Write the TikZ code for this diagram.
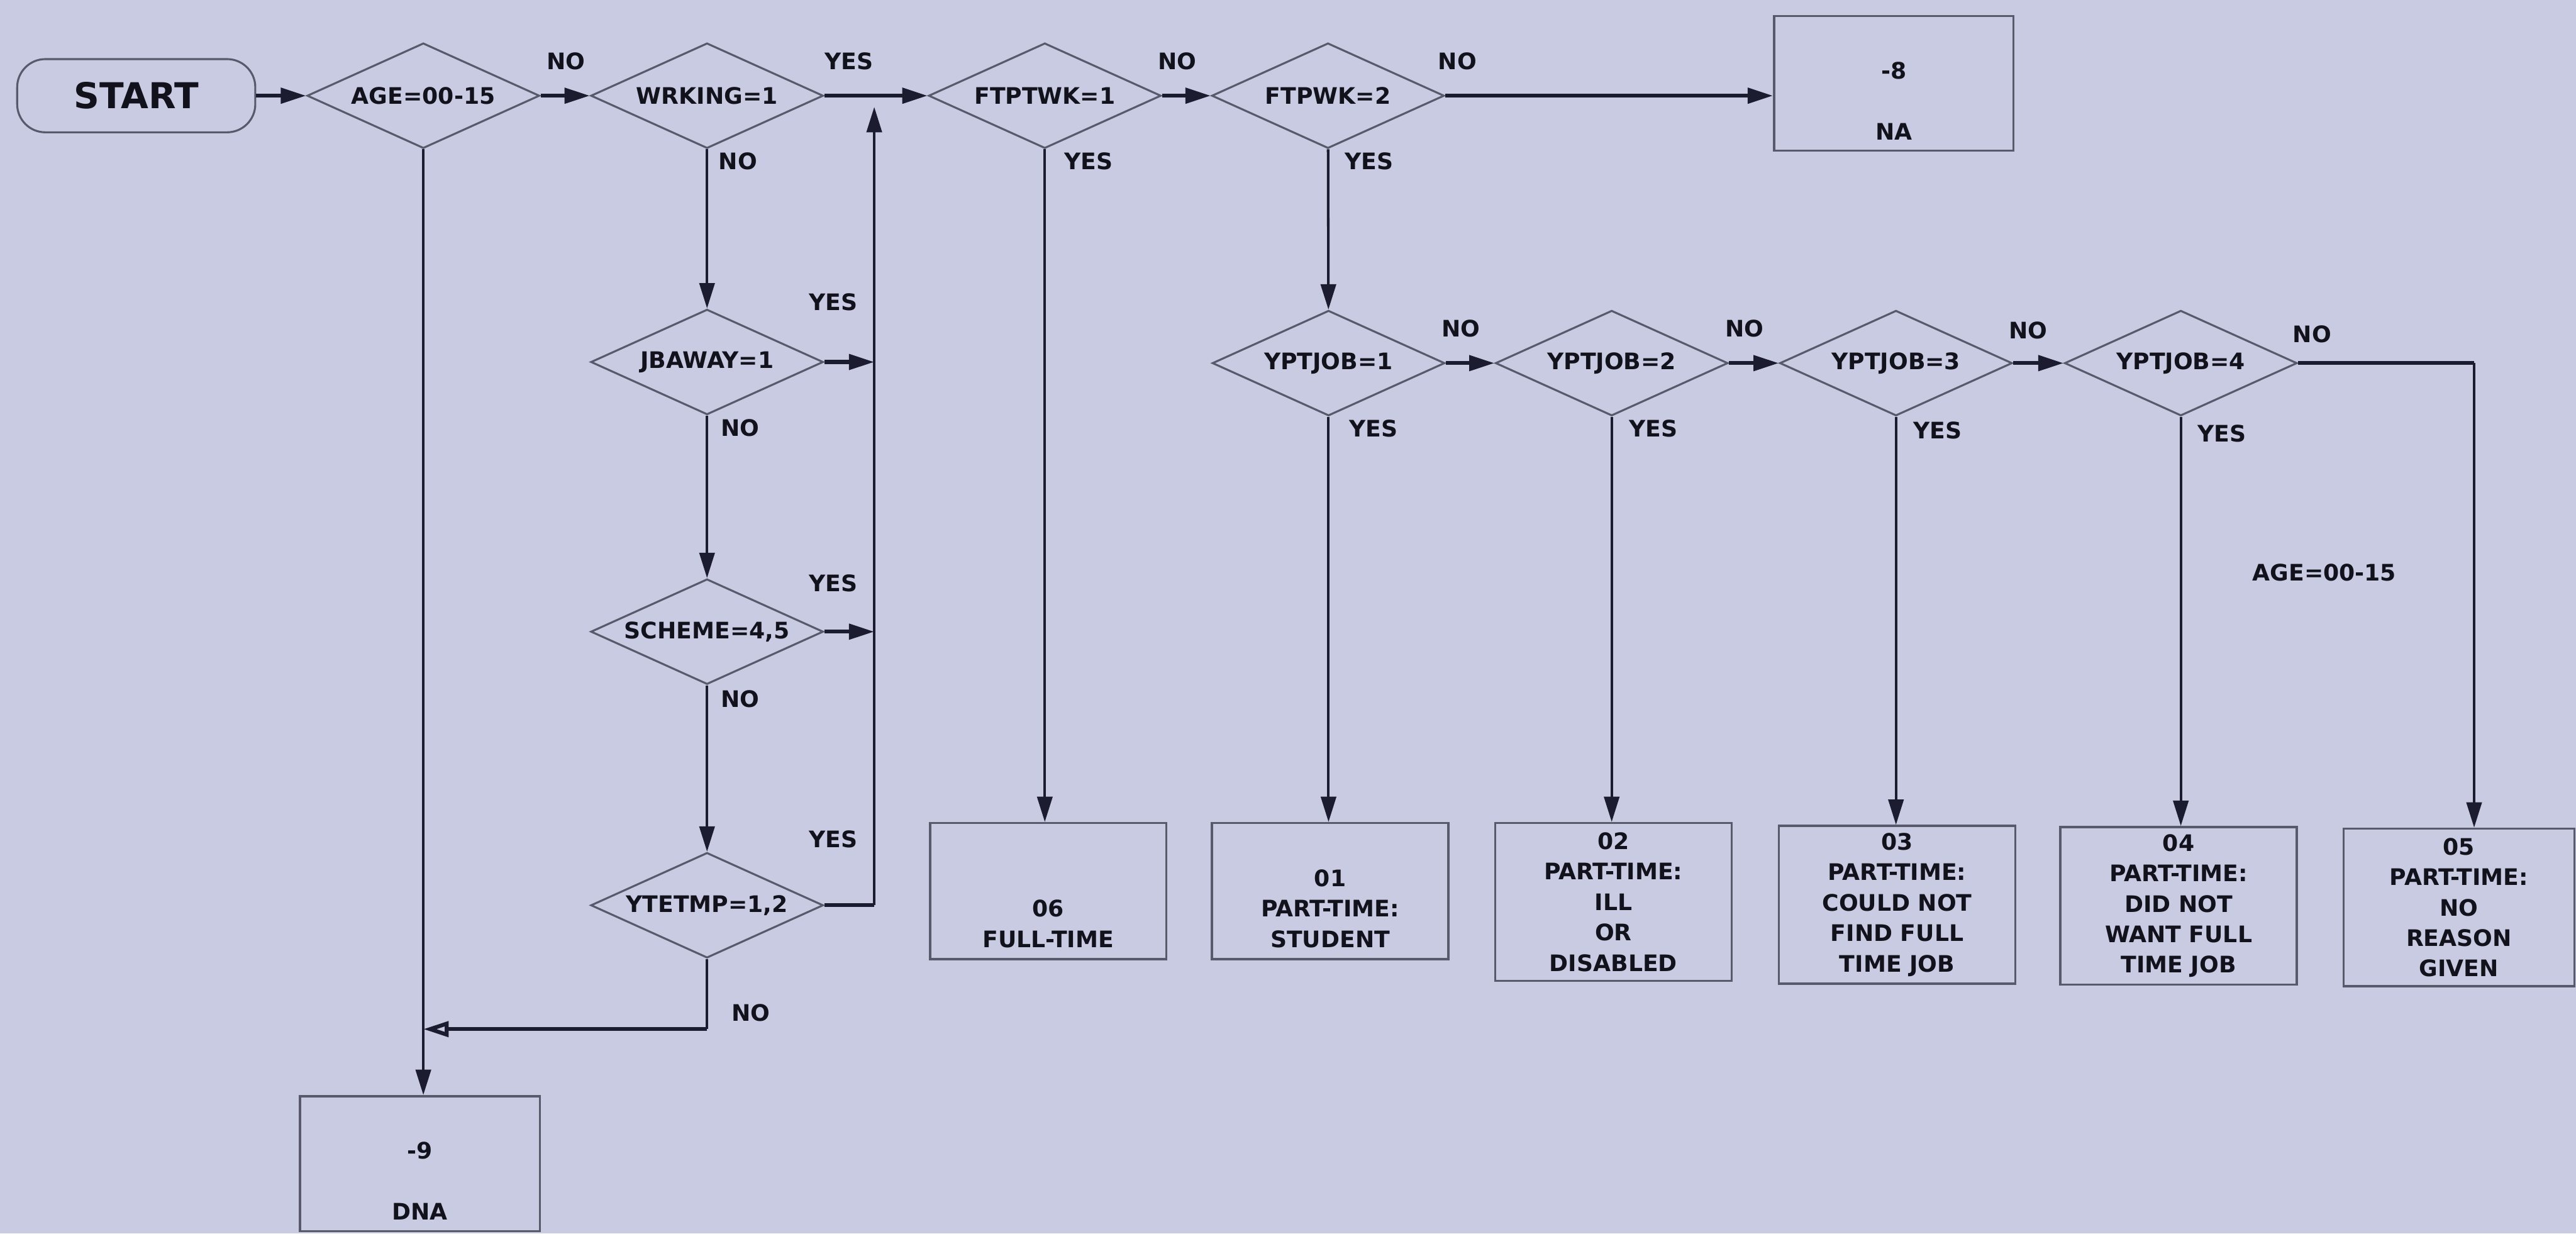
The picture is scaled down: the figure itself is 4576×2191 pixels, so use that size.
\documentclass[tikz,border=0pt]{standalone}
\usepackage{fontspec}
\setmainfont{DejaVu Sans}
\usetikzlibrary{
    arrows.meta,
    shapes.geometric
}

\definecolor{paper}{RGB}{200,203,225}
\definecolor{wire}{RGB}{28,28,48}
\definecolor{edge}{RGB}{88,90,108}
\definecolor{ink}{RGB}{18,18,28}

\newcommand{\lblfont}{\fontsize{11.5}{15.4}\selectfont\bfseries}
\newcommand{\startfont}{\fontsize{18}{22}\selectfont\bfseries}

\tikzset{
    decision/.style={diamond, draw=edge, line width=0.35mm, aspect=2.2,
        minimum width=41.3mm, minimum height=18.7mm, inner sep=0pt,
        font=\lblfont, text=ink},
    outbox/.style={rectangle, draw=edge, line width=0.4mm, minimum width=42mm,
        minimum height=24.2mm, inner sep=0.5mm, align=center,
        font=\lblfont, text=ink},
    tallbox/.style={outbox, minimum height=28mm},
    startbox/.style={rectangle, rounded corners=5mm, draw=edge, line width=0.35mm,
        minimum width=42.3mm, minimum height=13mm, font=\startfont, text=ink},
    lbl/.style={font=\lblfont, text=ink, inner sep=0pt},
    hline/.style={draw=wire, line width=0.7mm},
    vline/.style={draw=wire, line width=0.45mm},
    arr/.style={-{Triangle[length=4.5mm,width=2.7mm]}},
    openarr/.style={-{Triangle[open,length=4.5mm,width=2.7mm]}}
}

\begin{document}
\begin{tikzpicture}[x=0.1mm,y=-0.1mm]
\fill[paper] (0,0) rectangle (4576,2191);
\useasboundingbox (0,0) rectangle (4576,2191);

% top row
\node[startbox] (start) at (242,170) {START};
\node[decision] (age) at (752,170) {AGE=00-15};
\node[decision] (wrking) at (1256,170) {WRKING=1};
\node[decision] (ftptwk) at (1856,170) {FTPTWK=1};
\node[decision] (ftpwk) at (2359,170) {FTPWK=2};
\node[outbox, minimum width=42.5mm, minimum height=23.9mm] (na) at (3364,148) {\strut\\-8\\\strut\\NA};

% not working column
\node[decision] (jbaway) at (1256,643) {JBAWAY=1};
\node[decision] (scheme) at (1256,1122) {SCHEME=4,5};
\node[decision] (ytetmp) at (1256,1608) {YTETMP=1,2};
\node[outbox, minimum width=42.6mm, minimum height=24mm] (dna) at (746,2067) {\strut\\-9\\\strut\\DNA};

% part-time reasons
\node[decision] (ypt1) at (2360,645) {YPTJOB=1};
\node[decision] (ypt2) at (2863,645) {YPTJOB=2};
\node[decision] (ypt3) at (3368,645) {YPTJOB=3};
\node[decision] (ypt4) at (3874,645) {YPTJOB=4};

% outcomes
\node[outbox] (full) at (1862,1583) {\strut\\\strut\\06\\FULL-TIME};
\node[outbox] (pt1) at (2363,1583) {\strut\\01\\PART-TIME:\\STUDENT};
\node[tallbox] (pt2) at (2866,1602) {02\\PART-TIME:\\ILL\\OR\\DISABLED};
\node[tallbox] (pt3) at (3370,1607) {03\\PART-TIME:\\COULD NOT\\FIND FULL\\TIME JOB};
\node[tallbox] (pt4) at (3870,1609) {04\\PART-TIME:\\DID NOT\\WANT FULL\\TIME JOB};
\node[tallbox, minimum width=41mm] (pt5) at (4368,1612) {05\\PART-TIME:\\NO\\REASON\\GIVEN};

\coordinate (mrg) at (1553,170);
\coordinate (dnaj) at (1256,1828);
\coordinate (rt) at (4395,645);

% main line
\draw[hline,arr] (start) -- (age);
\draw[hline,arr] (age) -- (wrking);
\draw[hline,arr] (wrking) -- (ftptwk);
\draw[hline,arr] (ftptwk) -- (ftpwk);
\draw[hline,arr] (ftpwk) -- (ftpwk -| na.west);

% not working checks
\draw[vline,arr] (wrking) -- (jbaway);
\draw[vline,arr] (jbaway) -- (scheme);
\draw[vline,arr] (scheme) -- (ytetmp);
\draw[hline,arr] (jbaway) -- (jbaway -| mrg);
\draw[hline,arr] (scheme) -- (scheme -| mrg);
\draw[hline] (ytetmp.east) -- (ytetmp.east -| mrg);
\draw[vline,arr,shorten >=2mm] (ytetmp.east -| mrg) -- (mrg);
\draw[vline] (ytetmp.south) -- (dnaj);
\draw[hline,openarr] (dnaj) -- (dnaj -| age);
\draw[vline,arr] (age) -- (age |- dna.north);

% hours and reasons
\draw[vline,arr] (ftptwk) -- (ftptwk |- full.north);
\draw[vline,arr] (ftpwk) -- (ypt1);
\draw[hline,arr] (ypt1) -- (ypt2);
\draw[hline,arr] (ypt2) -- (ypt3);
\draw[hline,arr] (ypt3) -- (ypt4);
\draw[vline,arr] (ypt1) -- (ypt1 |- pt1.north);
\draw[vline,arr] (ypt2) -- (ypt2 |- pt2.north);
\draw[vline,arr] (ypt3) -- (ypt3 |- pt3.north);
\draw[vline,arr] (ypt4) -- (ypt4 |- pt4.north);
\draw[hline] (ypt4) -- (rt);
\draw[vline,arr] (rt) -- (rt |- pt5.north);

% branch labels
\node[lbl] (n1) at (1005,109) {NO};
\node[lbl] (y1) at (1508,109) {YES};
\node[lbl] (n2) at (2091,109) {NO};
\node[lbl] (n3) at (2589,109) {NO};
\node[lbl] (n4) at (1311,286) {NO};
\node[lbl] (y2) at (1934,286) {YES};
\node[lbl] (y3) at (2432,286) {YES};
\node[lbl] (y4) at (1480,537) {YES};
\node[lbl] (n5) at (1315,760) {NO};
\node[lbl] (y5) at (1480,1036) {YES};
\node[lbl] (n6) at (1315,1242) {NO};
\node[lbl] (y6) at (1480,1491) {YES};
\node[lbl] (n7) at (1334,1799) {NO};
\node[lbl] (n8) at (2595,583) {NO};
\node[lbl] (n9) at (3099,583) {NO};
\node[lbl] (n10) at (3603,587) {NO};
\node[lbl] (n11) at (4107,594) {NO};
\node[lbl] (y7) at (2440,761) {YES};
\node[lbl] (y8) at (2937,761) {YES};
\node[lbl] (y9) at (3442,764) {YES};
\node[lbl] (y10) at (3947,770) {YES};
\node[lbl] (agenote) at (4129,1017) {AGE=00-15};
\end{tikzpicture}
\end{document}
